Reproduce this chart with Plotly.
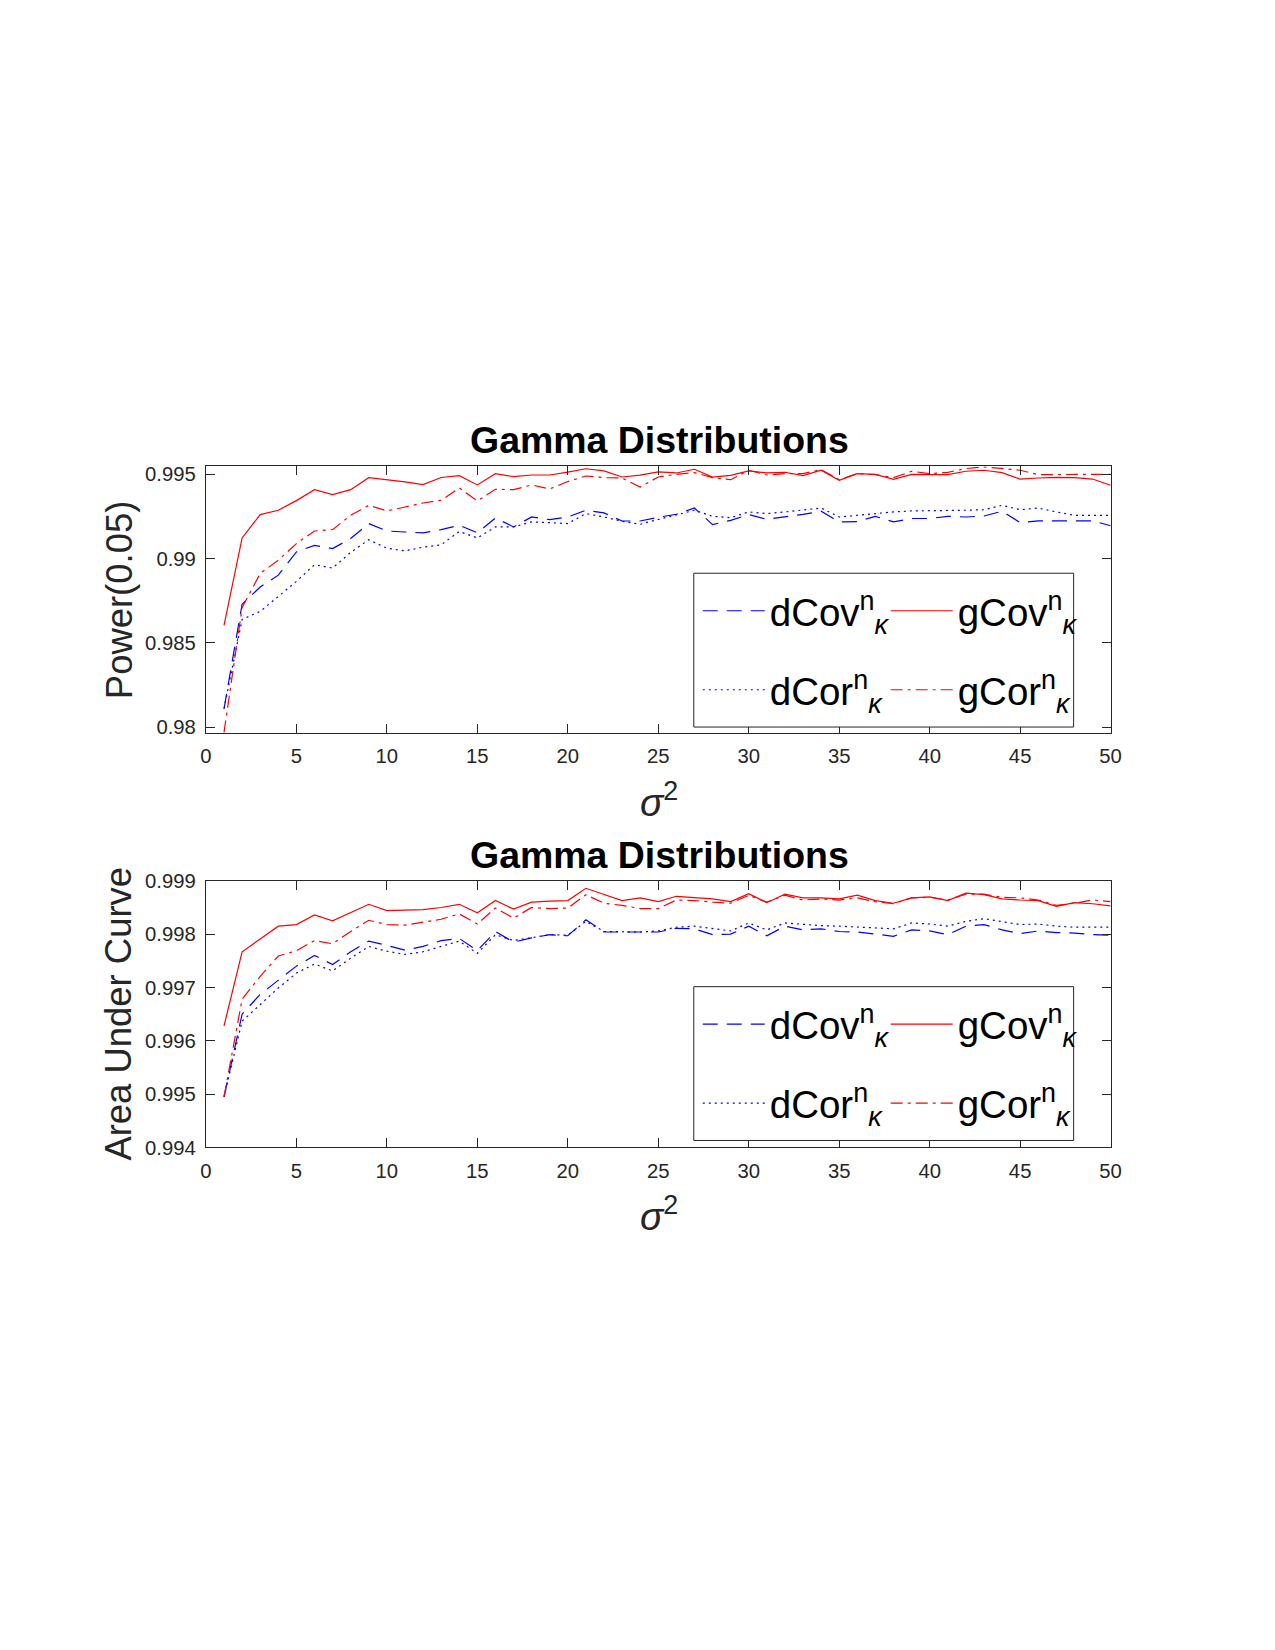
import plotly.graph_objects as go

sigma2 = list(range(1, 51))

top_dcov = [0.9811, 0.9873, 0.98832, 0.98902, 0.99040, 0.99079, 0.99060, 0.99119, 0.99208, 0.99164,
            0.99158, 0.99153, 0.99172, 0.99198, 0.99153, 0.99241, 0.99188, 0.99247, 0.99231, 0.99247,
            0.99287, 0.99271, 0.99223, 0.99223, 0.99245, 0.99263, 0.99300, 0.99202, 0.99227, 0.99261,
            0.99233, 0.99247, 0.99263, 0.99281, 0.99218, 0.99220, 0.99251, 0.99218, 0.99238, 0.99238,
            0.99251, 0.99247, 0.99253, 0.99281, 0.99214, 0.99224, 0.99224, 0.99224, 0.99224, 0.99195]
top_gcov = [0.98605, 0.99123, 0.99261, 0.99287, 0.99344, 0.99409, 0.99380, 0.99409, 0.99480, 0.99469,
            0.99455, 0.99439, 0.99481, 0.99492, 0.99437, 0.99504, 0.99486, 0.99496, 0.99496, 0.99513,
            0.99533, 0.99520, 0.99484, 0.99495, 0.99514, 0.99508, 0.99530, 0.99484, 0.99494, 0.99520,
            0.99508, 0.99512, 0.99492, 0.99524, 0.99464, 0.99504, 0.99500, 0.99470, 0.99500, 0.99498,
            0.99498, 0.99518, 0.99524, 0.99510, 0.99472, 0.99478, 0.99482, 0.99480, 0.99472, 0.99435]
top_dcor = [0.9811, 0.9864, 0.98687, 0.98776, 0.98865, 0.98964, 0.98944, 0.99037, 0.99112, 0.99062,
            0.99046, 0.99068, 0.99082, 0.99161, 0.99123, 0.99188, 0.99188, 0.99218, 0.99212, 0.99208,
            0.99267, 0.99247, 0.99221, 0.99204, 0.99232, 0.99261, 0.99287, 0.99251, 0.99243, 0.99277,
            0.99267, 0.99277, 0.99287, 0.99300, 0.99247, 0.99257, 0.99271, 0.99277, 0.99283, 0.99283,
            0.99287, 0.99287, 0.99290, 0.99316, 0.99290, 0.99300, 0.99277, 0.99257, 0.99257, 0.99257]
top_gcor = [0.9797, 0.9871, 0.98912, 0.98991, 0.99089, 0.99164, 0.99172, 0.99257, 0.99316, 0.99283,
            0.99306, 0.99330, 0.99346, 0.99419, 0.99342, 0.99411, 0.99409, 0.99437, 0.99413, 0.99457,
            0.99490, 0.99480, 0.99478, 0.99425, 0.99484, 0.99500, 0.99510, 0.99480, 0.99468, 0.99524,
            0.99496, 0.99504, 0.99504, 0.99528, 0.99468, 0.99504, 0.99498, 0.99480, 0.99518, 0.99504,
            0.99512, 0.99534, 0.99544, 0.99534, 0.99524, 0.99498, 0.99500, 0.99500, 0.99500, 0.99500]

bot_dcov = [0.99495, 0.99650, 0.99687, 0.99713, 0.99740, 0.99760, 0.99743, 0.99767, 0.99787, 0.99779,
            0.99770, 0.99777, 0.99788, 0.99792, 0.99769, 0.99805, 0.99785, 0.99793, 0.99799, 0.99797,
            0.99827, 0.99804, 0.99804, 0.99804, 0.99804, 0.99811, 0.99810, 0.99799, 0.99800, 0.99815,
            0.99797, 0.99815, 0.99808, 0.99810, 0.99805, 0.99804, 0.99800, 0.99796, 0.99808, 0.99806,
            0.99799, 0.99815, 0.99818, 0.99808, 0.99801, 0.99806, 0.99803, 0.99802, 0.99799, 0.99798]
bot_gcov = [0.99628, 0.99767, 0.99791, 0.99815, 0.99818, 0.99836, 0.99825, 0.99841, 0.99856, 0.99844,
            0.99845, 0.99846, 0.99850, 0.99856, 0.99840, 0.99863, 0.99847, 0.99860, 0.99862, 0.99863,
            0.99886, 0.99874, 0.99863, 0.99868, 0.99861, 0.99871, 0.99869, 0.99866, 0.99861, 0.99876,
            0.99859, 0.99875, 0.99868, 0.99868, 0.99866, 0.99873, 0.99863, 0.99858, 0.99868, 0.99870,
            0.99863, 0.99877, 0.99874, 0.99866, 0.99864, 0.99863, 0.99852, 0.99859, 0.99857, 0.99853]
bot_dcor = [0.99495, 0.99637, 0.99668, 0.99699, 0.99727, 0.99744, 0.99731, 0.99755, 0.99777, 0.99768,
            0.99762, 0.99767, 0.99777, 0.99787, 0.99764, 0.99799, 0.99788, 0.99794, 0.99799, 0.99798,
            0.99824, 0.99805, 0.99804, 0.99804, 0.99806, 0.99813, 0.99815, 0.99810, 0.99806, 0.99821,
            0.99808, 0.99821, 0.99818, 0.99816, 0.99815, 0.99813, 0.99811, 0.99810, 0.99821, 0.99819,
            0.99815, 0.99824, 0.99829, 0.99824, 0.99818, 0.99819, 0.99815, 0.99813, 0.99813, 0.99813]
bot_gcor = [0.99495, 0.99678, 0.99721, 0.99759, 0.99769, 0.99788, 0.99782, 0.99805, 0.99826, 0.99818,
            0.99817, 0.99822, 0.99828, 0.99838, 0.99819, 0.99849, 0.99830, 0.99850, 0.99848, 0.99849,
            0.99874, 0.99858, 0.99854, 0.99848, 0.99848, 0.99864, 0.99863, 0.99860, 0.99858, 0.99873,
            0.99860, 0.99873, 0.99864, 0.99866, 0.99864, 0.99868, 0.99861, 0.99857, 0.99868, 0.99869,
            0.99864, 0.99875, 0.99875, 0.99869, 0.99868, 0.99864, 0.99854, 0.99858, 0.99864, 0.99861]

x_ticks = [0, 5, 10, 15, 20, 25, 30, 35, 40, 45, 50]
top_yticks = [0.98, 0.985, 0.99, 0.995]
top_yticklabels = ["0.98", "0.985", "0.99", "0.995"]
bot_yticks = [0.994, 0.995, 0.996, 0.997, 0.998, 0.999]
bot_yticklabels = ["0.994", "0.995", "0.996", "0.997", "0.998", "0.999"]

title_text = "Gamma Distributions"
top_ylabel = "Power(0.05)"
bot_ylabel = "Area Under Curve"
xlabel = "<i>σ</i><sup>2</sup>"
names = ["dCov<sup>n</sup><sub><i>κ</i></sub>", "gCov<sup>n</sup><sub><i>κ</i></sub>",
         "dCor<sup>n</sup><sub><i>κ</i></sub>", "gCor<sup>n</sup><sub><i>κ</i></sub>"]

W, H = 1275, 1650
FONT = "Liberation Sans, Arial, Helvetica, sans-serif"
AX = "#262626"
# the photographed page comes out slightly reduced and offset; compensate so that
# layout targets (in photographed pixels) land where the reference has them
SX, BX = 0.987, 5.0
SY, BY = 0.988, 10.0
FS = 1 / 0.9875

def px(t):
    return ((t - BX) / SX) / W

def py(t):
    return 1 - ((t - BY) / SY) / H

fig = go.Figure()

styles = [("#0000ff", "15px,9px"), ("#ff0000", "solid"), ("#0000ff", "2px,4px"), ("#ff0000", "12px,5px,3px,5px")]

panels = [
    ("x", "y", [top_dcov, top_gcov, top_dcor, top_gcor], ("legend", "legend2")),
    ("x2", "y2", [bot_dcov, bot_gcov, bot_dcor, bot_gcor], ("legend3", "legend4")),
]
for xa, ya, series, (legL, legR) in panels:
    for i, (vals, (col, dash)) in enumerate(zip(series, styles)):
        fig.add_trace(go.Scatter(
            x=sigma2, y=vals, mode="lines", name=names[i],
            line=dict(color=col, dash=dash, width=1.2),
            xaxis=xa, yaxis=ya,
            legend=legL if i in (0, 2) else legR,
            legendgroup=f"{xa}{i}",
        ))

axis_common = dict(
    showline=True, linecolor=AX, linewidth=1, mirror="ticks",
    ticks="inside", ticklen=9, tickcolor=AX, tickwidth=1,
    showgrid=False, zeroline=False, ticklabelstandoff=5,
    tickfont=dict(family=FONT, size=20.3, color=AX),
)

fig.update_layout(
    width=W, height=H,
    margin=dict(l=0, r=0, t=0, b=0),
    paper_bgcolor="white", plot_bgcolor="white",
    showlegend=True,
    xaxis=dict(domain=[px(205), px(1110)], range=[0, 50], tickvals=x_ticks, anchor="y", **axis_common),
    yaxis=dict(domain=[py(733), py(466)], range=[0.97966, 0.99547], tickvals=top_yticks,
               ticktext=top_yticklabels, anchor="x", **axis_common),
    xaxis2=dict(domain=[px(205), px(1110)], range=[0, 50], tickvals=x_ticks, anchor="y2", **axis_common),
    yaxis2=dict(domain=[py(1148), py(881)], range=[0.994, 0.999], tickvals=bot_yticks,
                ticktext=bot_yticklabels, anchor="x2", **axis_common),
)

leg_common = dict(
    orientation="v", bgcolor="rgba(0,0,0,0)", borderwidth=0,
    font=dict(family=FONT, size=38 * FS, color="black"),
    xanchor="left", yanchor="top", tracegroupgap=26, itemwidth=62,
)
for box_top, (lL, lR) in [(573, ("legend", "legend2")), (987, ("legend3", "legend4"))]:
    fig.update_layout({
        lL: dict(x=px(697), y=py(box_top + 6), **leg_common),
        lR: dict(x=px(885), y=py(box_top + 6), **leg_common),
    })
    fig.add_shape(type="rect", xref="paper", yref="paper",
                  x0=px(693), x1=px(1073), y0=py(box_top + 154), y1=py(box_top),
                  line=dict(color=AX, width=1), fillcolor="white", layer="above")

for yc, ylab, ymid, xlab_y in [(440, top_ylabel, 600, 800), (855, bot_ylabel, 1014, 1215)]:
    fig.add_annotation(text=f"<b>{title_text}</b>", xref="paper", yref="paper",
                       x=px(659), y=py(yc), showarrow=False, xanchor="center", yanchor="middle",
                       font=dict(family=FONT, size=37 * FS, color="black"))
    fig.add_annotation(text=ylab, xref="paper", yref="paper", textangle=-90,
                       x=px(118), y=py(ymid), showarrow=False, xanchor="center", yanchor="middle",
                       font=dict(family=FONT, size=36 * FS, color=AX))
    fig.add_annotation(text=xlabel, xref="paper", yref="paper",
                       x=px(658), y=py(xlab_y), showarrow=False, xanchor="center", yanchor="middle",
                       font=dict(family=FONT, size=38 * FS, color=AX))

fig.write_html("out.html")
